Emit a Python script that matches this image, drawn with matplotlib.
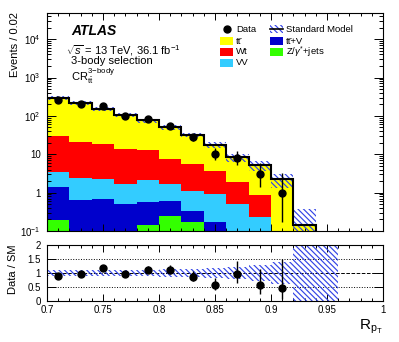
import matplotlib
matplotlib.use('Agg')
import matplotlib.pyplot as plt
import numpy as np
from matplotlib.patches import Rectangle
from matplotlib.lines import Line2D
from matplotlib.ticker import MultipleLocator, LogLocator, FuncFormatter, FixedLocator, NullFormatter

plt.rcParams['font.family'] = ['Liberation Sans', 'DejaVu Sans']
plt.rcParams['mathtext.fontset'] = 'custom'
plt.rcParams['mathtext.rm'] = 'Liberation Sans'
plt.rcParams['mathtext.it'] = 'Liberation Sans:italic'
plt.rcParams['mathtext.bf'] = 'Liberation Sans:bold'
plt.rcParams['hatch.linewidth'] = 0.85

# ---------------- data ----------------
bin_edges = [0.70, 0.72, 0.74, 0.76, 0.78, 0.80, 0.82, 0.84, 0.86, 0.88, 0.90, 0.92, 0.94, 0.96]
zjets = [0.188, 0, 0, 0, 0.145, 0.243, 0.17, 0, 0, 0, 0, 0, 0]
ttV = [1.25, 0.66, 0.69, 0.51, 0.415, 0.377, 0.16, 0.17, 0, 0, 0, 0, 0]
VV = [1.96, 1.71, 1.60, 1.18, 1.51, 1.07, 0.80, 0.76, 0.51, 0.23, 0, 0, 0]
Wt = [26.0, 19.0, 16.4, 12.1, 10.9, 5.9, 4.47, 2.84, 1.36, 0.65, 0, 0, 0]
ttbar = [258, 193, 133, 90.2, 63.0, 42.4, 26.4, 13.5, 6.4, 4.3, 2.2, 0.14, 0.02]
sm_rel_err = [0.12, 0.12, 0.12, 0.12, 0.12, 0.13, 0.14, 0.18, 0.22, 0.28, 0.40, 1.6, 2.5]

data = [261, 206, 178, 102, 84, 56, 28, 10, 8, 3, 1]
data_err_lo = [16.1, 14.3, 13.3, 10.1, 9.14, 7.46, 5.26, 3.11, 2.76, 1.63, 0.83]
data_err_hi = [17.2, 15.4, 14.4, 11.1, 10.2, 8.53, 6.35, 4.26, 3.94, 2.92, 2.30]

TTBAR = 't' + 't\u0304'
labels = {'data': 'Data', 'sm': 'Standard Model', 'ttbar': TTBAR,
          'Wt': 'Wt', 'VV': 'VV', 'ttV': TTBAR + '+V', 'zjets': r'Z/$\gamma^{*}$+jets'}
colors = {'zjets': '#33ff00', 'ttV': '#0000cc', 'VV': '#33ccff', 'Wt': '#ff0000', 'ttbar': '#ffff00'}
hatch_col = '#3344e6'
HATCH = '\\' * 6

# ---------------- figure ----------------
W, H = 399, 342
fig = plt.figure(figsize=(W / 100, H / 100), dpi=100)
ax = fig.add_axes([47 / W, 1 - 231 / H, 336 / W, 218 / H])
rx = fig.add_axes([47 / W, 1 - 301 / H, 336 / W, 56 / H])

edges = np.array(bin_edges)
lo = edges[:-1]
wd = np.diff(edges)
centers = lo + wd / 2

floor = 1e-3
bottom = np.full(len(lo), floor)
for key, vals in [('zjets', zjets), ('ttV', ttV), ('VV', VV), ('Wt', Wt), ('ttbar', ttbar)]:
    v = np.array(vals, dtype=float)
    ax.bar(lo, v, width=wd, bottom=bottom, align='edge', color=colors[key], linewidth=0, zorder=1)
    bottom = bottom + v
total = bottom - floor

err = total * np.array(sm_rel_err)
band_top = total + err
band_bot = np.maximum(total - err, floor)
ax.bar(lo, band_top - band_bot, width=wd, bottom=band_bot, align='edge', fill=False,
       hatch=HATCH, edgecolor=hatch_col, linewidth=0, zorder=2)
ax.stairs(total, edges, baseline=floor, color='k', lw=1.5, zorder=3)

nd = len(data)
d = np.array(data, dtype=float)
dlo = np.array(data_err_lo)
dhi = np.array(data_err_hi)
ax.errorbar(centers[:nd], d, yerr=[dlo, dhi], fmt='o', color='k', ms=5, elinewidth=1,
            capsize=0, zorder=4)

ax.set_xlim(0.7, 1.0)
ax.set_yscale('log')
ax.set_ylim(0.1, 4.8e4)
ax.xaxis.set_major_locator(MultipleLocator(0.05))
ax.xaxis.set_minor_locator(MultipleLocator(0.01))
ax.yaxis.set_major_locator(LogLocator(base=10, numticks=20))
ax.yaxis.set_minor_locator(LogLocator(base=10, subs=np.arange(2, 10), numticks=20))
ax.yaxis.set_minor_formatter(NullFormatter())


def logfmt(v, pos):
    e = int(round(np.log10(v)))
    if e == 0:
        return '1'
    if e == 1:
        return '10'
    return r'$\mathregular{10^{%d}}$' % e


ax.yaxis.set_major_formatter(FuncFormatter(logfmt))
ax.tick_params(which='both', direction='in', top=True, right=True, labelbottom=False,
               labelsize=7, pad=4.5, width=0.7)
ax.tick_params(axis='x', which='major', length=4.7)
ax.tick_params(axis='x', which='minor', length=2.4)
ax.tick_params(axis='y', which='major', length=6.5)
ax.tick_params(axis='y', which='minor', length=3.2)
for s in ax.spines.values():
    s.set_linewidth(0.8)

# ---------------- ratio ----------------
rel = np.array(sm_rel_err)
rx.bar(lo, 2 * rel, width=wd, bottom=1 - rel, align='edge', fill=False, hatch=HATCH,
       edgecolor=hatch_col, linewidth=0, zorder=2)
rx.axhline(1.0, color='k', ls='--', lw=0.7, zorder=1)
rx.axhline(0.5, color='k', ls=':', lw=0.7, zorder=1)
rx.axhline(1.5, color='k', ls=':', lw=0.7, zorder=1)
ratio = d / total[:nd]
rx.errorbar(centers[:nd], ratio, yerr=[dlo / total[:nd], dhi / total[:nd]], fmt='o', color='k',
            ms=5, elinewidth=1, capsize=0, zorder=4)
rx.set_xlim(0.7, 1.0)
rx.set_ylim(0, 2)
rx.xaxis.set_major_locator(MultipleLocator(0.05))
rx.xaxis.set_minor_locator(MultipleLocator(0.01))
rx.yaxis.set_major_locator(FixedLocator([0, 0.5, 1, 1.5, 2]))
rx.xaxis.set_major_formatter(FuncFormatter(lambda v, p: '%g' % round(v, 3)))
rx.yaxis.set_major_formatter(FuncFormatter(lambda v, p: '%g' % v))
rx.tick_params(which='both', direction='in', top=True, right=True, labelsize=7, width=0.7)
rx.tick_params(axis='x', which='major', length=5, pad=3)
rx.tick_params(axis='x', which='minor', length=2.5)
rx.tick_params(axis='y', which='major', length=6.5, pad=4.5)
for s in rx.spines.values():
    s.set_linewidth(0.8)

# ---------------- texts ----------------
def fx(x):
    return x / W


def fy(y):
    return 1 - y / H


fig.text(fx(71), fy(35.3), 'ATLAS', weight='bold', style='italic', size=10, va='baseline')
fig.text(fx(66), fy(54.3), r'$\sqrt{s}$ = 13 TeV, 36.1 fb$^{-1}$', size=8, va='baseline')
fig.text(fx(71), fy(64.5), '3-body selection', size=8, va='baseline')
fig.text(fx(71), fy(81.5), r'CR$^{\mathrm{3\!-\!body}}_{\mathrm{t\bar{t}}}$', size=8, va='baseline')

fig.text(fx(14.5), fy(12), 'Events / 0.02', rotation=90, ha='center', va='top', size=8)
fig.text(fx(13.5), fy(269), 'Data / SM', rotation=90, ha='center', va='center', size=8)
fig.text(fx(383), fy(330), r'$\mathrm{R_{p_{T}}}$', ha='right', va='baseline', size=11)

# ---------------- legend ----------------
bw, bh = 13, 8
rows = [29.0, 41.0, 52.0, 62.5]
c1x, c2x = 220, 270
leg_fs = 6.8


def box(x, y, **kw):
    r = Rectangle((fx(x), fy(y + bh / 2)), bw / W, bh / H, transform=fig.transFigure, **kw)
    fig.add_artist(r)


fig.add_artist(Line2D([fx(c1x + bw / 2)], [fy(rows[0])], marker='o', color='k', ms=5,
                      transform=fig.transFigure))
fig.text(fx(c1x + 16), fy(rows[0]), labels['data'], size=leg_fs, va='center')
for i, key in enumerate(['ttbar', 'Wt', 'VV']):
    box(c1x, rows[i + 1], facecolor=colors[key], edgecolor='none')
    fig.text(fx(c1x + 16), fy(rows[i + 1]), labels[key], size=leg_fs, va='center')

box(c2x, rows[0], facecolor='none', edgecolor=hatch_col, hatch=HATCH, linewidth=0)
fig.add_artist(Line2D([fx(c2x), fx(c2x + bw)], [fy(rows[0]), fy(rows[0])], color='k', lw=1.2,
                      transform=fig.transFigure))
fig.text(fx(c2x + 16), fy(rows[0]), labels['sm'], size=leg_fs, va='center')
for i, key in enumerate(['ttV', 'zjets']):
    box(c2x, rows[i + 1], facecolor=colors[key], edgecolor='none')
    fig.text(fx(c2x + 16), fy(rows[i + 1]), labels[key], size=leg_fs, va='center')

fig.savefig('out.png', dpi=100)
